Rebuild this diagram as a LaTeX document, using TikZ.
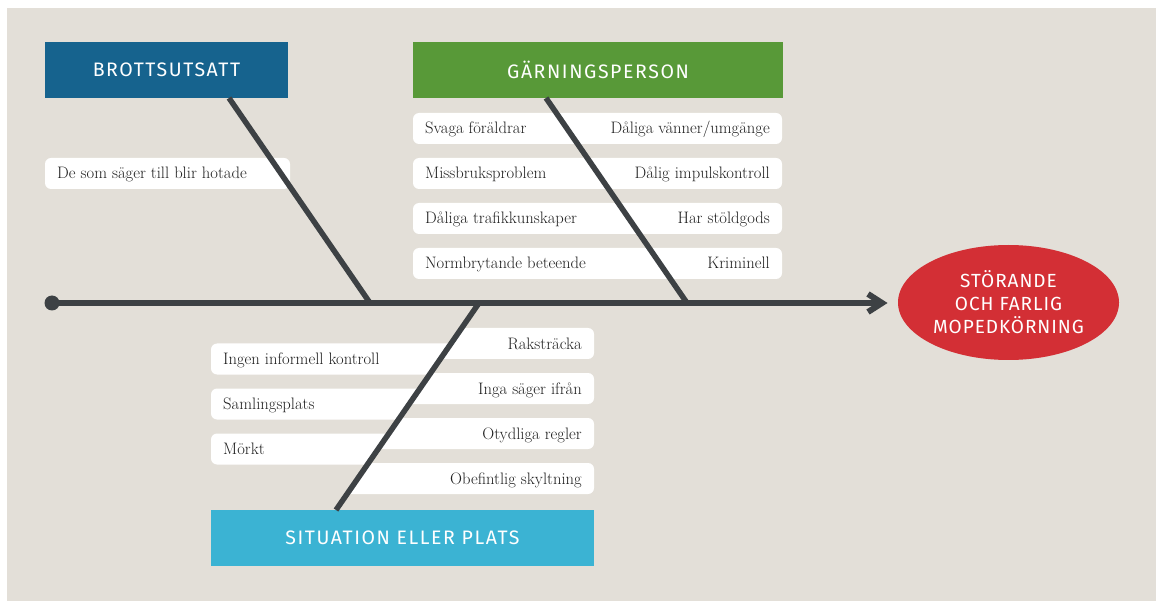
\documentclass[tikz,border=0pt]{standalone}
\usepackage{fontspec}
\usetikzlibrary{shapes.geometric}
\newfontfamily\catfont{Fira Sans}[LetterSpace=8]
\newfontfamily\effectfont{Fira Sans}[LetterSpace=5]
\definecolor{bgbeige}{RGB}{227,223,216}
\definecolor{cblue}{RGB}{22,99,142}
\definecolor{cgreen}{RGB}{88,153,56}
\definecolor{ccyan}{RGB}{59,179,211}
\definecolor{cred}{RGB}{211,47,53}
\definecolor{linegray}{RGB}{61,65,68}
\definecolor{txtgray}{RGB}{32,32,32}
\tikzset{
  catbox/.style={rectangle, minimum height=56pt, inner sep=0pt, outer sep=0pt, text=white,
    font={\catfont\fontsize{19.5}{22}\selectfont}},
  pill/.style={rectangle, fill=white, rounded corners=6pt, minimum height=31pt, inner sep=0pt, outer sep=0pt},
  ptext/.style={font={\fontsize{16.6}{19}\selectfont}, text=txtgray, inner sep=0pt},
  bone/.style={draw=linegray, line width=5.5pt},
  spine/.style={draw=linegray, line width=6pt},
}
\begin{document}
\begin{tikzpicture}[x=1pt,y=-1pt]
\useasboundingbox (0,0) rectangle (1156,601);
\fill[bgbeige] (7,8) rectangle (1156,601);

% category boxes
\node[catbox, fill=cblue, minimum width=243pt] (brott) at (166.5,70) {BROTTSUTSATT};
\node[catbox, fill=cgreen, minimum width=370pt] (garn) at (598,70) {GÄRNINGSPERSON};
\node[catbox, fill=ccyan, minimum width=383pt] (sit) at (402.5,538) {SITUATION ELLER PLATS};

% effect
\node[ellipse, fill=cred, minimum width=221pt, minimum height=115pt, inner sep=0pt, align=center,
  text=white, font={\effectfont\fontsize{19}{23}\selectfont}] (effect) at (1008.5,302.5)
  {STÖRANDE\\OCH FARLIG\\MOPEDKÖRNING};

% Brottsutsatt pill
\node[pill, minimum width=245pt] (b1) at (167.5,173.5) {};
\node[ptext, anchor=base west] at ([xshift=12pt,yshift=-5.5pt]b1.west) {De som säger till blir hotade};

% Garningsperson pills
\foreach \nm/\yy/\lt/\rt in {g1/128.5/Svaga föräldrar/Dåliga vänner\slash umgänge,
    g2/173.5/Missbruksproblem/Dålig impulskontroll,
    g3/218.5/Dåliga trafikkunskaper/Har stöldgods,
    g4/263.5/Normbrytande beteende/Kriminell}{
  \node[pill, minimum width=369pt] (\nm) at (597.5,\yy) {};
  \node[ptext, anchor=base west] at ([xshift=12pt,yshift=-5.5pt]\nm.west) {\lt};
  \node[ptext, anchor=base east] at ([xshift=-12pt,yshift=-5.5pt]\nm.east) {\rt};
}

% Situation pills, cut along the bone
\begin{scope}
  \clip (0,300) -- (481.1,300) -- (329.1,520) -- (0,520) -- cycle;
  \node[pill, minimum width=289pt] (s1) at (355.5,359) {};
  \node[pill, minimum width=289pt] (s2) at (355.5,404) {};
  \node[pill, minimum width=289pt] (s3) at (355.5,449) {};
\end{scope}
\begin{scope}
  \clip (481.1,300) -- (1156,300) -- (1156,520) -- (329.1,520) -- cycle;
  \node[pill, minimum width=274pt] (r1) at (457,343.5) {};
  \node[pill, minimum width=274pt] (r2) at (457,388.5) {};
  \node[pill, minimum width=274pt] (r3) at (457,433.5) {};
  \node[pill, minimum width=274pt] (r4) at (457,478.5) {};
\end{scope}
\node[ptext, anchor=base west] at ([xshift=12pt,yshift=-5.5pt]s1.west) {Ingen informell kontroll};
\node[ptext, anchor=base west] at ([xshift=12pt,yshift=-5.5pt]s2.west) {Samlingsplats};
\node[ptext, anchor=base west] at ([xshift=12pt,yshift=-5.5pt]s3.west) {Mörkt};
\node[ptext, anchor=base east] at ([xshift=-12pt,yshift=-5.5pt]r1.east) {Raksträcka};
\node[ptext, anchor=base east] at ([xshift=-12pt,yshift=-5.5pt]r2.east) {Inga säger ifrån};
\node[ptext, anchor=base east] at ([xshift=-12pt,yshift=-5.5pt]r3.east) {Otydliga regler};
\node[ptext, anchor=base east] at ([xshift=-12pt,yshift=-5.5pt]r4.east) {Obefintlig skyltning};

% spine
\coordinate (tail) at (52,303);
\coordinate (head) at (882,303);
\coordinate (j1) at (370,303);
\coordinate (j2) at (687,303);
\coordinate (j3) at (479,303);
\draw[spine] (tail) -- (head);
\fill[linegray] (tail) circle (7.5pt);
\draw[spine, miter limit=10] ([xshift=-14pt,yshift=9pt]head) -- (head) -- ([xshift=-14pt,yshift=-9pt]head);

% bones
\draw[bone] ([xshift=62.5pt]brott.south) -- (j1);
\draw[bone] ([xshift=-52pt]garn.south) -- (j2);
\draw[bone] (j3) -- ([xshift=-66.5pt]sit.north);
\end{tikzpicture}
\end{document}
